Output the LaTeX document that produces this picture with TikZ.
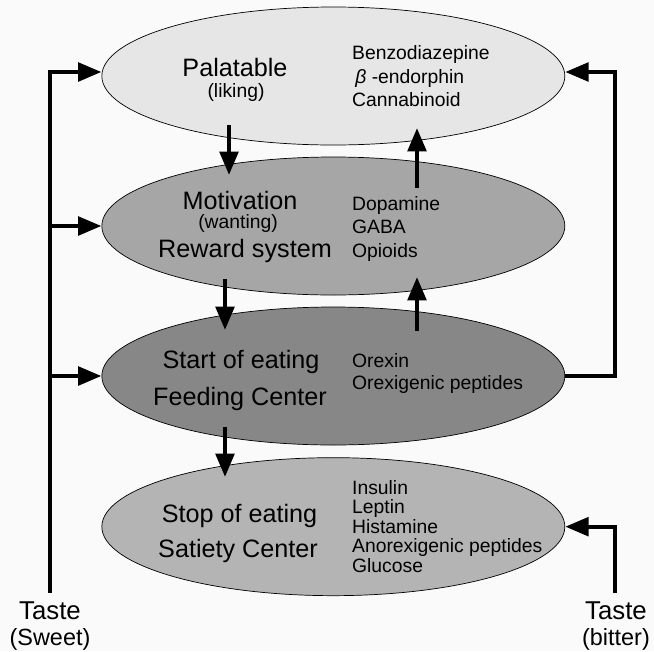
\documentclass[tikz,border=0pt]{standalone}
\usepackage{fontspec}
\setmainfont{Liberation Sans}
\usetikzlibrary{shapes.geometric,arrows.meta}
\definecolor{bggray}{HTML}{FAFAFA}
\definecolor{palgray}{HTML}{E6E6E6}
\definecolor{motgray}{HTML}{A6A6A6}
\definecolor{feedgray}{HTML}{878787}
\definecolor{satgray}{HTML}{B4B4B4}
\tikzset{
  ell/.style={ellipse,draw,line width=0.6pt,minimum width=13.89cm,minimum height=4.14cm,inner sep=0pt},
  big/.style={anchor=base,font=\fontsize{21.5}{24}\selectfont},
  sub/.style={anchor=base,font=\fontsize{16.5}{19}\selectfont},
  lst/.style={anchor=base west,font=\fontsize{16.5}{19}\selectfont},
  taste/.style={anchor=north,inner sep=0pt,align=center,font=\fontsize{22}{21.5}\selectfont},
  arr/.style={line width=0.13cm,-{Triangle[length=0.7cm,width=0.55cm]}}
}
\begin{document}
\begin{tikzpicture}
  \useasboundingbox (0,0) rectangle (19.62,-19.53);
  \fill[bggray] (0,0) rectangle (19.62,-19.53);
  % the four levels
  \node[ell,fill=palgray] (pal) at (10.0,-2.28) {};
  \node[ell,fill=motgray] (mot) at (10.0,-6.78) {};
  \node[ell,fill=feedgray] (feed) at (10.0,-11.28) {};
  \node[ell,fill=satgray] (sat) at (10.0,-15.8) {};
  % left labels
  \node[big] (palatable) at (7.05,-2.28) {Palatable};
  \node[sub] (liking) at (7.08,-2.91) {(liking)};
  \node[big] (motivation) at (7.2,-6.27) {Motivation};
  \node[sub] (wanting) at (7.14,-6.84) {(wanting)};
  \node[big] (reward) at (7.35,-7.71) {Reward system};
  \node[big] (start) at (7.23,-11.04) {Start of eating};
  \node[big] (feeding) at (7.2,-12.15) {Feeding Center};
  \node[big] (stop) at (7.185,-15.66) {Stop of eating};
  \node[big] (satiety) at (7.14,-16.71) {Satiety Center};
  % right lists
  \node[lst] (benzo) at (10.44,-1.77) {Benzodiazepine};
  \node[lst] (endorphin) at (10.44,-2.49) {\,\textit{β} -endorphin};
  \node[lst] (canna) at (10.44,-3.18) {Cannabinoid};
  \node[lst] (dopamine) at (10.44,-6.3) {Dopamine};
  \node[lst] (gaba) at (10.44,-6.99) {GABA};
  \node[lst] (opioids) at (10.44,-7.71) {Opioids};
  \node[lst] (orexin) at (10.44,-11.01) {Orexin};
  \node[lst] (orexigenic) at (10.44,-11.67) {Orexigenic peptides};
  \node[lst] (insulin) at (10.44,-14.82) {Insulin};
  \node[lst] (leptin) at (10.44,-15.39) {Leptin};
  \node[lst] (histamine) at (10.44,-15.99) {Histamine};
  \node[lst] (anorexigenic) at (10.44,-16.56) {Anorexigenic peptides};
  \node[lst] (glucose) at (10.44,-17.16) {Glucose};
  % taste
  \node[taste] (sweet) at (1.5,-18.06) {Taste\\{\fontsize{20}{21.5}\selectfont (Sweet)}};
  \node[taste] (bitter) at (18.48,-18.06) {Taste\\{\fontsize{20}{21.5}\selectfont (bitter)}};
  % arrow ends
  \coordinate (d1a) at (6.87,-3.75);
  \coordinate (d1b) at (6.87,-5.25);
  \coordinate (d2a) at (6.75,-8.37);
  \coordinate (d2b) at (6.75,-9.9);
  \coordinate (d3a) at (6.75,-12.81);
  \coordinate (d3b) at (6.75,-14.31);
  \coordinate (u1a) at (12.51,-5.64);
  \coordinate (u1b) at (12.51,-3.84);
  \coordinate (u2a) at (12.51,-9.93);
  \coordinate (u2b) at (12.51,-8.31);
  \coordinate (sweetend) at (1.5,-17.79);
  \coordinate (bitterend) at (18.45,-17.79);
  \draw[arr] (d1a) -- (d1b);
  \draw[arr] (d2a) -- (d2b);
  \draw[arr] (d3a) -- (d3b);
  \draw[arr] (u1a) -- (u1b);
  \draw[arr] (u2a) -- (u2b);
  % sweet taste
  \draw[arr] (sweetend) |- ([yshift=0.12cm]pal.west);
  \draw[arr] (sweetend |- mot.west) -- (mot.west);
  \draw[arr] (sweetend |- feed.west) -- (feed.west);
  % feedback and bitter taste
  \draw[arr] (feed.east) -- (bitterend |- feed.east) |- ([yshift=0.12cm]pal.east);
  \draw[arr] (bitterend) |- (sat.east);
\end{tikzpicture}
\end{document}
